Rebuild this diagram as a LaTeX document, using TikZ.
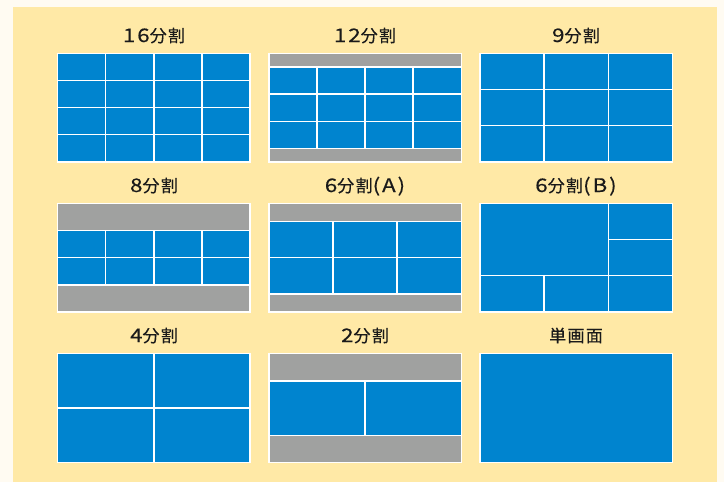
\documentclass[tikz,border=0pt]{standalone}
\usepackage{fontspec}
\setmainfont{Noto Sans CJK JP}[LetterSpace=8, FakeBold=0.25]
\newfontfamily\wide{Noto Sans CJK JP}[FakeStretch=1.2, Scale=1.1, LetterSpace=10, FakeBold=0.25]
\definecolor{outerbg}{HTML}{FFFBF2}
\definecolor{panelbg}{HTML}{FFE9A6}
\definecolor{scrblue}{HTML}{0084CF}
\definecolor{scrgray}{HTML}{A0A1A0}
\definecolor{lbltext}{HTML}{1A1A1A}
\tikzset{
  tile/.style={draw=white, line width=1.3pt, fill=scrblue},
  graytile/.style={tile, fill=scrgray},
  lbl/.style={anchor=base, inner sep=0pt, text=lbltext, font=\fontsize{17pt}{20pt}\selectfont},
  unitgrid/.style={x=16.025pt, y=-9.05pt}
}
\newcommand\bt[4]{\path[tile] (#1,#2) rectangle (#3,#4);}
\newcommand\gt[4]{\path[graytile] (#1,#2) rectangle (#3,#4);}
\begin{document}
\begin{tikzpicture}[x=1pt, y=-1pt]
\useasboundingbox (0,0) rectangle (724,482);
\fill[outerbg] (0,0) rectangle (724,482);
\fill[panelbg] (13,7) rectangle (717,482);

% labels
\node[lbl] (l16) at (154,42) {{\wide 16}分割};
\node[lbl] (l12) at (365,42) {{\wide 12}分割};
\node[lbl] (l9)  at (576,42) {{\wide 9}分割};
\node[lbl] (l8)  at (154,192) {{\wide 8}分割};
\node[lbl] (l6a) at (365,192) {{\wide 6}分割{\wide (A)}};
\node[lbl] (l6b) at (576,192) {{\wide 6}分割{\wide (B)}};
\node[lbl] (l4)  at (154,342) {{\wide 4}分割};
\node[lbl] (l2)  at (365,342) {{\wide 2}分割};
\node[lbl] (l1)  at (576,342) {単画面};

% 16 split
\begin{scope}[shift={(57.7pt,-53.3pt)}, unitgrid]
\foreach \i in {0,3,6,9}{\foreach \j in {0,3,6,9}{
  \pgfmathsetmacro\ii{\i+3}\pgfmathsetmacro\jj{\j+3}
  \bt{\i}{\j}{\ii}{\jj}}}
\end{scope}

% 12 split
\begin{scope}[shift={(268.9pt,-53.3pt)}, unitgrid]
\gt{0}{0}{12}{1.5}
\foreach \i in {0,3,6,9}{\foreach \j in {1.5,4.5,7.5}{
  \pgfmathsetmacro\ii{\i+3}\pgfmathsetmacro\jj{\j+3}
  \bt{\i}{\j}{\ii}{\jj}}}
\gt{0}{10.5}{12}{12}
\end{scope}

% 9 split
\begin{scope}[shift={(480pt,-53.3pt)}, unitgrid]
\foreach \i in {0,4,8}{\foreach \j in {0,4,8}{
  \pgfmathsetmacro\ii{\i+4}\pgfmathsetmacro\jj{\j+4}
  \bt{\i}{\j}{\ii}{\jj}}}
\end{scope}

% 8 split
\begin{scope}[shift={(57.7pt,-203.4pt)}, unitgrid]
\gt{0}{0}{12}{3}
\foreach \i in {0,3,6,9}{\foreach \j in {3,6}{
  \pgfmathsetmacro\ii{\i+3}\pgfmathsetmacro\jj{\j+3}
  \bt{\i}{\j}{\ii}{\jj}}}
\gt{0}{9}{12}{12}
\end{scope}

% 6 split (A)
\begin{scope}[shift={(268.9pt,-203.4pt)}, unitgrid]
\gt{0}{0}{12}{2}
\foreach \i in {0,4,8}{\foreach \j in {2,6}{
  \pgfmathsetmacro\ii{\i+4}\pgfmathsetmacro\jj{\j+4}
  \bt{\i}{\j}{\ii}{\jj}}}
\gt{0}{10}{12}{12}
\end{scope}

% 6 split (B)
\begin{scope}[shift={(480pt,-203.4pt)}, unitgrid]
\bt{0}{0}{8}{8}
\bt{8}{0}{12}{4}
\bt{8}{4}{12}{8}
\bt{0}{8}{4}{12}
\bt{4}{8}{8}{12}
\bt{8}{8}{12}{12}
\end{scope}

% 4 split
\begin{scope}[shift={(57.7pt,-353.7pt)}, unitgrid]
\bt{0}{0}{6}{6}
\bt{6}{0}{12}{6}
\bt{0}{6}{6}{12}
\bt{6}{6}{12}{12}
\end{scope}

% 2 split
\begin{scope}[shift={(268.9pt,-353.7pt)}, unitgrid]
\gt{0}{0}{12}{3}
\bt{0}{3}{6}{9}
\bt{6}{3}{12}{9}
\gt{0}{9}{12}{12}
\end{scope}

% single screen
\begin{scope}[shift={(480pt,-353.7pt)}, unitgrid]
\bt{0}{0}{12}{12}
\end{scope}
\end{tikzpicture}
\end{document}
